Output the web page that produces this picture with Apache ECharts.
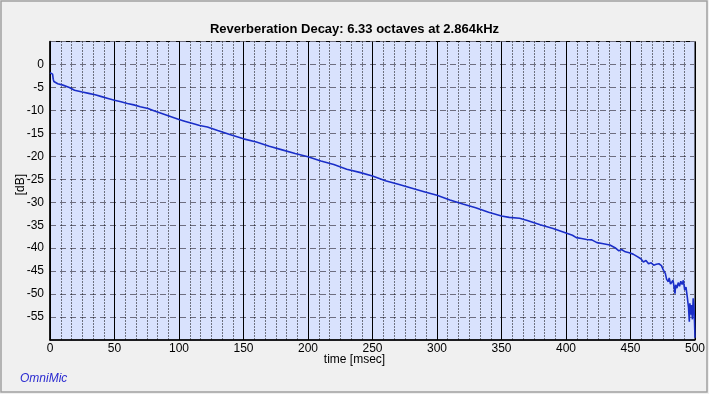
<!DOCTYPE html>
<html><head><meta charset="utf-8">
<script src="https://cdn.jsdelivr.net/npm/echarts@6/dist/echarts.min.js"></script>
<style>html,body{margin:0;padding:0;background:#f0f0f0;}#c{width:709px;height:394px;}</style>
</head><body><div id="c"></div>
<script>
const titleText = 'Reverberation Decay: 6.33 octaves at 2.864kHz';
const xName = 'time [msec]';
const yName = '[dB]';
const brand = 'OmniMic';
const timeMs = [0,1,2,2.5,3,4,6,10,15,19,25,30,35,40,45,50,55,60,65,70,76,80,85,90,95,100,105,110,116,122,130,140,150,160,170,180,190,200,210,220,230,240,250,260,270,280,290,300,310,320,330,340,350,356,364,370,380,390,400,405,408,412,416,420,424,428,434,438,441,443,446,449,452,455,458,460,462,464,466,468,470,472,473,474,475.5,477,478,479.3,480,481,482,483,484.5,485,486,487,488,489,490,491,492,493,494,495,495.6,496,497,497.3,498,498.6,499,499.5,500];
const decayDb = [-1.8,-2.0,-2.1,-3.2,-3.7,-4.0,-4.2,-4.5,-5.0,-5.6,-6.0,-6.3,-6.6,-7.0,-7.4,-7.8,-8.1,-8.5,-8.8,-9.2,-9.6,-10.0,-10.5,-11.0,-11.5,-12.0,-12.4,-12.8,-13.3,-13.6,-14.4,-15.3,-16.2,-16.9,-17.8,-18.6,-19.4,-20.1,-21.0,-21.8,-22.8,-23.5,-24.3,-25.3,-26.1,-26.9,-27.7,-28.5,-29.5,-30.4,-31.2,-32.2,-33.0,-33.3,-33.5,-34.0,-34.9,-35.7,-36.7,-37.2,-37.7,-37.9,-38.1,-38.2,-38.8,-39.0,-39.3,-39.9,-40.6,-40.3,-40.8,-41.0,-41.3,-41.8,-42.3,-43.0,-42.7,-43.4,-43.2,-43.7,-43.5,-43.4,-43.1,-43.8,-44.8,-45.5,-46.8,-47.3,-46.5,-47.8,-48.0,-47.0,-49.9,-48.0,-48.7,-47.5,-48.3,-47.2,-47.9,-47.0,-49.1,-48.5,-50.6,-53.0,-56.0,-52.0,-54.5,-52.4,-55.5,-50.9,-52.0,-55.0,-59.5];
const xMin = 0, xMax = 500, xStep = 50;
const yMin = -60, yMax = 5, yStep = 5;

const data = timeMs.map((t, i) => [t, decayDb[i]]);
const chart = echarts.init(document.getElementById('c'));
const font = '"Liberation Sans", Arial, sans-serif';
chart.setOption({
  backgroundColor: '#f0f0f0',
  animation: false,
  title: {text: titleText, left: 'center', top: 18,
    textStyle: {fontFamily: font, fontSize: 13, fontWeight: 'bold', color: '#000'}},
  grid: {left: 50, right: 14, top: 41.5, bottom: 54, show: true,
    backgroundColor: '#d9e2fd', borderColor: '#000', borderWidth: 1},
  xAxis: {type: 'value', min: xMin, max: xMax, interval: xStep,
    axisLine: {show: true, onZero: false, lineStyle: {color: '#000', width: 1.5}},
    axisTick: {show: false},
    axisLabel: {fontFamily: font, fontSize: 12, color: '#000', margin: 3},
    splitLine: {show: true, lineStyle: {color: '#000', width: 1}},
    minorTick: {show: false, splitNumber: 6},
    minorSplitLine: {show: true, lineStyle: {color: '#000', width: 1, type: [1, 2]}}
  },
  yAxis: {type: 'value', min: yMin, max: yMax, interval: yStep,
    axisLine: {show: true, onZero: false, lineStyle: {color: '#000', width: 1.5}},
    axisTick: {show: false},
    axisLabel: {fontFamily: font, fontSize: 12, color: '#000', margin: 6,
      formatter: v => (v === yMin || v === yMax) ? '' : String(v)},
    splitLine: {show: true, lineStyle: {color: '#6e6e80', width: 1, type: [6, 4]}}
  },
  series: [{type: 'line', data: data, showSymbol: false, symbol: 'none',
    lineStyle: {color: '#1a2ec8', width: 1.6}, clip: true}],
  graphic: [
    {type: 'rect', shape: {x: 1, y: 1, width: 706, height: 391}, silent: true,
      style: {fill: 'none', stroke: '#a0a0a0', lineWidth: 1.5}},
    {type: 'text', left: 15, top: 174, rotation: Math.PI / 2,
      style: {text: yName, fontFamily: font, fontSize: 12, fill: '#000'}},
    {type: 'text', left: 'center', top: 354,
      style: {text: xName, fontFamily: font, fontSize: 12, fill: '#000'}},
    {type: 'text', left: 20, top: 373,
      style: {text: brand, fontFamily: font, fontSize: 12, fontStyle: 'italic', fill: '#2a2ad0'}}
  ]
});
</script></body></html>
